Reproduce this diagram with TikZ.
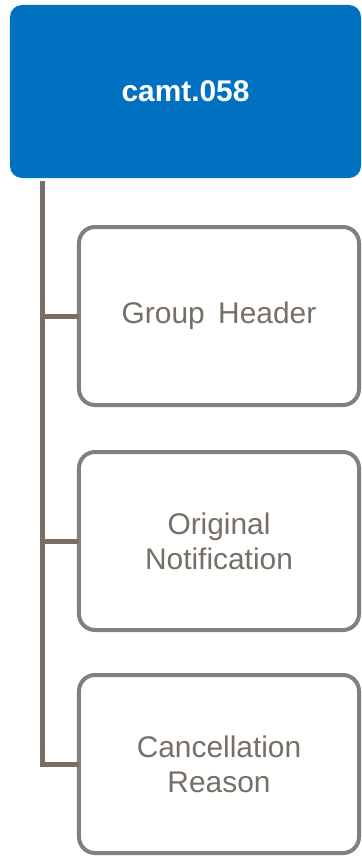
\documentclass[tikz,border=0pt]{standalone}
\usepackage{fontspec}
\setmainfont{Liberation Sans}
\definecolor{topblue}{HTML}{0070C0}
\definecolor{linebrown}{HTML}{776F65}
\definecolor{boxgray}{HTML}{808080}
\begin{document}
\begin{tikzpicture}[x=1bp,y=-1bp,
  topbox/.style={fill=topblue,draw=none,rounded corners=12bp,minimum width=351bp,minimum height=173bp,
    inner sep=0pt,outer sep=0pt,text=white,font=\fontsize{30}{35}\selectfont\bfseries},
  childbox/.style={draw=boxgray,line width=4bp,fill=white,rounded corners=16bp,minimum width=280bp,
    minimum height=178bp,inner sep=0pt,outer sep=0pt,align=center,text=linebrown,
    font=\fontsize{30}{35}\selectfont},
  conn/.style={draw=linebrown,line width=5bp}]
\useasboundingbox (0,0) rectangle (361,856);
\node[topbox] (top) at (185.5,91.5) {camt.058};
\node[childbox] (gh) at (219,316) {Group\hspace{0.45em}Header};
\node[childbox] (on) at (219,541) {Original\\Notification};
\node[childbox] (cr) at (219,764) {Cancellation\\Reason};
\coordinate (v0) at (42,181);
\draw[conn] (v0) |- (cr.west);
\draw[conn] (v0 |- gh.west) -- (gh.west);
\draw[conn] (v0 |- on.west) -- (on.west);
\end{tikzpicture}
\end{document}
